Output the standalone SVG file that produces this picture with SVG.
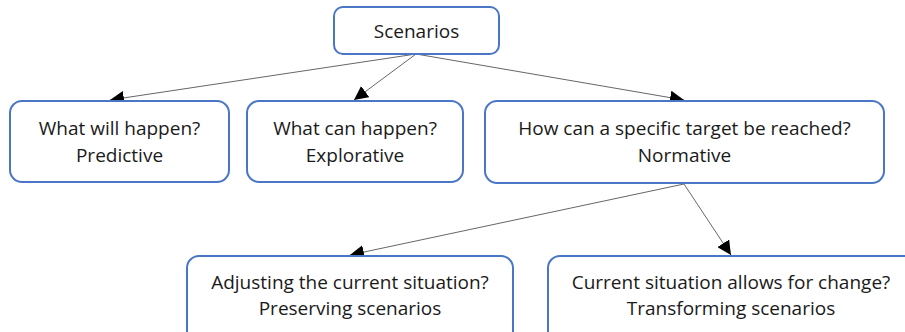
<svg xmlns="http://www.w3.org/2000/svg" width="905" height="332" viewBox="0 0 905 332">
<style>
.box{fill:#fff;stroke:#4a76c6;stroke-width:2}
.t{font-family:"Open Sans","Liberation Sans",sans-serif;font-size:19px;fill:#1a1a1a;text-anchor:middle}
.c{stroke:#555;stroke-width:0.9;fill:none;marker-end:url(#ah)}
</style>
<defs>
<marker id="ah" viewBox="0 0 10 10" refX="10" refY="5" markerWidth="14" markerHeight="14" markerUnits="userSpaceOnUse" orient="auto">
<path d="M0,0 L10,5 L0,10 z" fill="#000"/>
</marker>
</defs>
<g id="connectors">
<line class="c" x1="416" y1="54" x2="110" y2="100"/>
<line class="c" x1="416" y1="54" x2="354" y2="100"/>
<line class="c" x1="416" y1="54" x2="684" y2="100"/>
<line class="c" x1="684" y1="184" x2="350" y2="255"/>
<line class="c" x1="684" y1="184" x2="731" y2="255"/>
</g>
<g id="scenarios">
<rect class="box" x="334" y="7" width="165" height="47" rx="9"/>
<text class="t" x="416.5" y="38">Scenarios</text>
</g>
<g id="predictive">
<rect class="box" x="10" y="101" width="219" height="81" rx="12"/>
<text class="t" x="119.5" y="135">What will happen?</text>
<text class="t" x="119.5" y="162">Predictive</text>
</g>
<g id="explorative">
<rect class="box" x="247" y="101" width="216" height="81" rx="12"/>
<text class="t" x="355" y="135">What can happen?</text>
<text class="t" x="355" y="162">Explorative</text>
</g>
<g id="normative">
<rect class="box" x="485" y="101" width="399" height="82" rx="12"/>
<text class="t" x="684.5" y="135">How can a specific target be reached?</text>
<text class="t" x="684.5" y="162">Normative</text>
</g>
<g id="preserving">
<rect class="box" x="187" y="256" width="326" height="90" rx="12"/>
<text class="t" x="350" y="289">Adjusting the current situation?</text>
<text class="t" x="350" y="315">Preserving scenarios</text>
</g>
<g id="transforming">
<rect class="box" x="548" y="256" width="370" height="90" rx="12"/>
<text class="t" x="731" y="289">Current situation allows for change?</text>
<text class="t" x="731" y="315">Transforming scenarios</text>
</g>
</svg>
